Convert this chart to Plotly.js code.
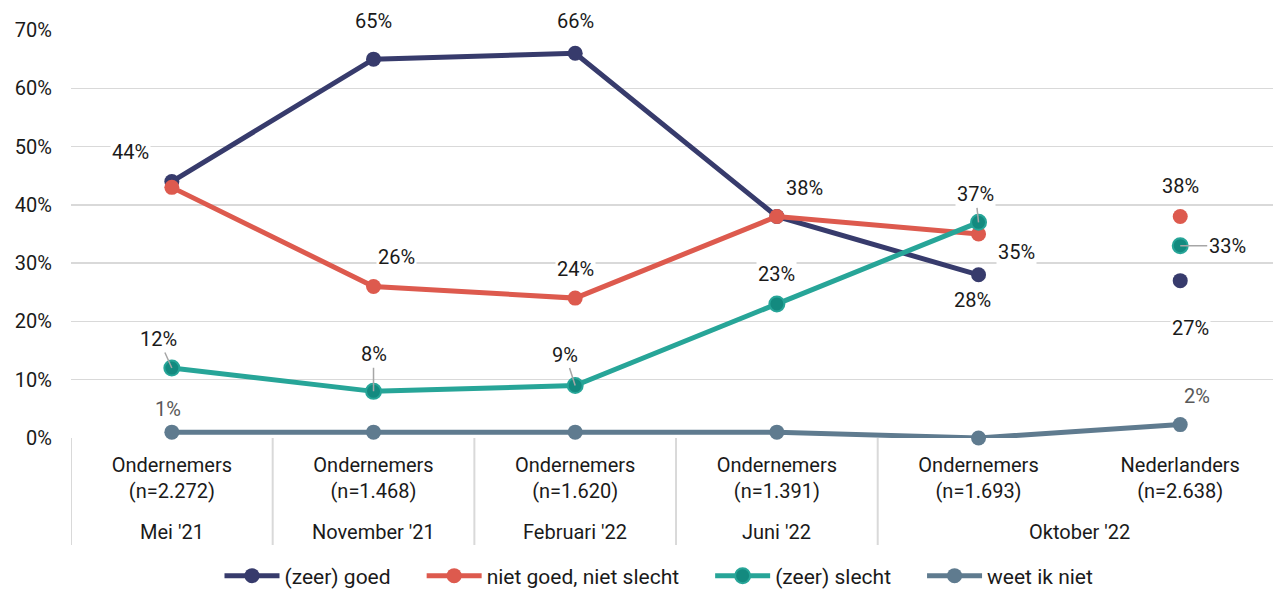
<!DOCTYPE html>
<html>
<head>
<meta charset="utf-8">
<script src="https://cdn.plot.ly/plotly-3.0.1.min.js"></script>
<style>
html,body{margin:0;padding:0;background:#fff;overflow:hidden;}
#wrap{width:1273px;height:589px;overflow:hidden;}
#chart{width:1273px;height:600px;}
</style>
</head>
<body>
<div id="wrap"><div id="chart"></div></div>
<script>
// ---- data ----
const periods = ["Mei '21", "November '21", "Februari '22", "Juni '22", "Oktober '22", "Oktober '22"];
const groups = ["Ondernemers<br>(n=2.272)", "Ondernemers<br>(n=1.468)", "Ondernemers<br>(n=1.620)", "Ondernemers<br>(n=1.391)", "Ondernemers<br>(n=1.693)", "Nederlanders<br>(n=2.638)"];
const seriesNames = ["(zeer) goed", "niet goed, niet slecht", "(zeer) slecht", "weet ik niet"];
const zeerGoed = [44, 65, 66, 38, 28, 27];
const nietGoedNietSlecht = [43, 26, 24, 38, 35, 38];
const zeerSlecht = [12, 8, 9, 23, 37, 33];
const weetIkNiet = [1, 1, 1, 1, 0, 2.3];
const weetLabels = ["1%", "1%", "1%", "1%", "0%", "2%"];
const yTicks = [0, 10, 20, 30, 40, 50, 60, 70];

// ---- styles ----
const colors = ["#373B6C", "#DD5A4E", "#27A598", "#5F7B8F"];
const markerColors = ["#373B6C", "#DD5A4E", "#138A7F", "#5F7B8F"];
const FONT = "Roboto, 'Noto Sans', Arial, sans-serif";
const TXT = "#1a1a1a";
// label offsets [ax, ay, leader] per series per point (null = not shown)
const labelStyle = [
  [[-41,-30,0],[0,-38,0],[0,-32,0],[28,-29,0],[-6,25,0],[10,47,0]],
  [null,[23,-29,0],[0,-29,0],null,[38,18,0],[0,-31,0]],
  [[-13,-29,1],[0,-37,1],[-10,-31,1],[0,-30,0],[-3,-28,1],[47,0,1]],
  [[-4,-23,0],null,null,null,null,[17,-29,0]]
];
const labelColor = [TXT, TXT, TXT, "#595959"];
const legendPad = "\u00a0\u00a0\u00a0\u00a0\u00a0";

const values = [zeerGoed, nietGoedNietSlecht, zeerSlecht, weetIkNiet];
const traces = [];
values.forEach((vals, s) => {
  const connectAll = (s === 3);
  const n = connectAll ? vals.length : vals.length - 1;
  const mk = {color: markerColors[s], size: 15, line: {color: colors[s], width: s === 2 ? 2 : 0}};
  traces.push({
    type: 'scatter', mode: 'lines+markers', name: seriesNames[s] + legendPad,
    x: groups.slice(0, n), y: vals.slice(0, n),
    line: {color: colors[s], width: 5},
    marker: mk, cliponaxis: false, hoverinfo: 'skip'
  });
  if (!connectAll) {
    traces.push({
      type: 'scatter', mode: 'markers', name: seriesNames[s], showlegend: false,
      x: groups.slice(n), y: vals.slice(n),
      marker: mk, cliponaxis: false, hoverinfo: 'skip'
    });
  }
});

const annotations = [];
values.forEach((vals, s) => {
  vals.forEach((v, i) => {
    const st = labelStyle[s][i];
    if (!st) return;
    annotations.push({
      x: i, y: v, xref: 'x', yref: 'y',
      text: s === 3 ? weetLabels[i] : (Math.round(v) + '%'),
      showarrow: true, ax: st[0], ay: st[1],
      arrowhead: 0, arrowwidth: 1.5,
      arrowcolor: st[2] ? '#A6A6A6' : 'rgba(0,0,0,0)',
      standoff: 0,
      bgcolor: '#ffffff', borderpad: 1,
      font: {family: FONT, size: 20, color: labelColor[s]}
    });
  });
});

// period (second level) labels and dividers
const shapes = [];
let start = 0;
for (let i = 1; i <= periods.length; i++) {
  if (i === periods.length || periods[i] !== periods[start]) {
    annotations.push({
      x: (start + i - 1) / 2, xref: 'x', y: 0, yref: 'paper',
      yanchor: 'middle', yshift: -94, showarrow: false,
      text: periods[start],
      font: {family: FONT, size: 20, color: TXT}
    });
    shapes.push({type: 'line', xref: 'x', yref: 'paper', x0: start - 0.5, x1: start - 0.5,
      y0: 0, y1: -107 / 408, line: {color: '#D9D9D9', width: 2}});
    start = i;
  }
}

const layout = {
  width: 1273, height: 600,
  margin: {l: 71, r: 0, t: 30, b: 162},
  paper_bgcolor: '#fff', plot_bgcolor: '#fff',
  font: {family: FONT, size: 20, color: TXT},
  xaxis: {
    type: 'category', categoryorder: 'array', categoryarray: groups,
    range: [-0.5, 5.46], automargin: false,
    showgrid: false, zeroline: false, showline: false, ticks: '',
    ticklabelstandoff: 13,
    tickfont: {family: FONT, size: 20, color: TXT}
  },
  yaxis: {
    range: [0, 70], automargin: false,
    tickmode: 'array', tickvals: yTicks, ticktext: yTicks.map(v => v + '%'),
    showgrid: true, gridcolor: '#D9D9D9', gridwidth: 1.5,
    zeroline: false, showline: false, ticks: '',
    ticklabelstandoff: 18,
    tickfont: {family: FONT, size: 20, color: TXT}
  },
  showlegend: true,
  legend: {
    orientation: 'h', x: 0.5, xanchor: 'center', y: -138 / 408, yanchor: 'middle',
    font: {family: FONT, size: 21, color: TXT},
    itemwidth: 55, traceorder: 'normal'
  },
  shapes: shapes,
  annotations: annotations
};

Plotly.newPlot('chart', traces, layout, {displayModeBar: false, staticPlot: true});
</script>
</body>
</html>
